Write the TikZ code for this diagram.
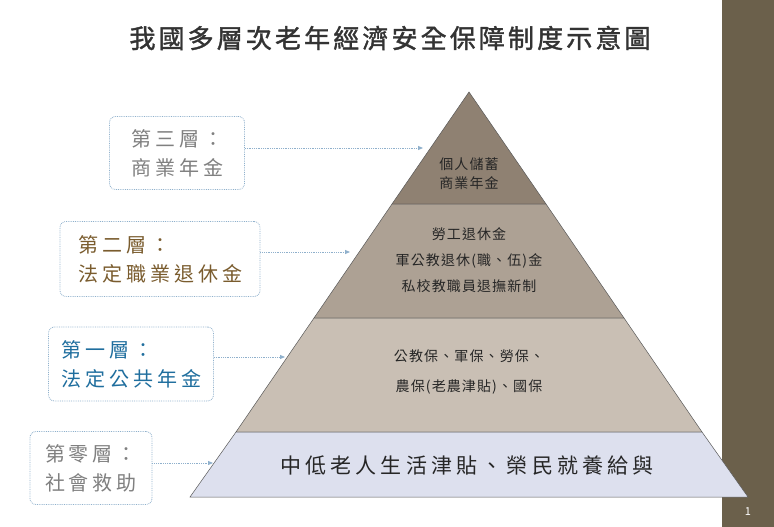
\documentclass[tikz,border=0pt]{standalone}
\usepackage{fontspec}
\setmainfont{Noto Sans CJK TC}
\newfontfamily\spaced[LetterSpace=20]{Noto Sans CJK TC}
\newfontfamily\spacedb[LetterSpace=12,FakeBold=1.5]{Noto Sans CJK TC}
\newfontfamily\spacedc[LetterSpace=8]{Noto Sans CJK TC}
\usetikzlibrary{arrows.meta}
\definecolor{side}{HTML}{6B604B}
\definecolor{lv3}{HTML}{8F8172}
\definecolor{lv2}{HTML}{ADA194}
\definecolor{lv1}{HTML}{C9BFB4}
\definecolor{lv0}{HTML}{DDE0EE}
\definecolor{edge}{HTML}{8FB0CC}
\definecolor{gtxt}{HTML}{808080}
\definecolor{btxt}{HTML}{7A5C2E}
\definecolor{ltxt}{HTML}{1F6E9E}
\begin{document}
\begin{tikzpicture}[x=1pt,y=-1pt,
 tier/.style={draw=edge,densely dotted,thick,rounded corners=6pt,align=left,inner sep=0pt,font=\spaced\fontsize{20}{29}\selectfont},
 conn/.style={draw=edge,densely dotted,thick,-{Triangle[length=5pt,width=4pt]}},
 lvl/.style={draw=gray!70!black,line width=0.5pt},
 ltext/.style={align=center,font=\spacedc\fontsize{14}{26}\selectfont,text=black!85}]
\useasboundingbox (0,0) rectangle (774,527);
\fill[white] (0,0) rectangle (774,527);
\fill[side] (722,0) rectangle (774,527);
\node[text=white,font=\fontsize{11}{13}\selectfont] (pg) at (748,512) {1};
\node[text=black!80,font=\spacedb\fontsize{26}{30}\selectfont] (title) at (390,38) {我國多層次老年經濟安全保障制度示意圖};
% pyramid
\path[lvl,fill=lv3] (469,92) -- (546,204) -- (392,204) -- cycle;
\path[lvl,fill=lv2] (392,204) -- (546,204) -- (624,318) -- (314,318) -- cycle;
\path[lvl,fill=lv1] (314,318) -- (624,318) -- (702,432) -- (236,432) -- cycle;
\path[lvl,fill=lv0] (236,432) -- (702,432) -- (748,497) -- (190,497) -- cycle;
\node[ltext,font=\spacedc\fontsize{14}{19}\selectfont] (p3) at (469,174) {個人儲蓄\\商業年金};
\node[ltext] (p2) at (469,260) {勞工退休金\\軍公教退休(職、伍)金\\私校教職員退撫新制};
\node[ltext,font=\spacedc\fontsize{14}{30}\selectfont] (p1) at (469,372) {公教保、軍保、勞保、\\農保(老農津貼)、國保};
\node[ltext,font=\spaced\fontsize{21}{24}\selectfont] (p0) at (467,466) {中低老人生活津貼、榮民就養給與};
% tier boxes
\node[tier,text=gtxt,minimum width=135pt,minimum height=73pt] (b3) at (177,153) {第三層：\\商業年金};
\node[tier,text=btxt,minimum width=200pt,minimum height=75pt] (b2) at (160,259) {第二層：\\法定職業退休金};
\node[tier,text=ltxt,minimum width=165pt,minimum height=74pt] (b1) at (131,364) {第一層：\\法定公共年金};
\node[tier,text=gtxt,minimum width=122pt,minimum height=73pt] (b0) at (91,468) {第零層：\\社會救助};
\coordinate (t3) at (423,148);
\coordinate (t2) at (350,252);
\coordinate (t1) at (285,357);
\coordinate (t0) at (213,463);
\draw[conn] (b3.east |- t3) -- (t3);
\draw[conn] (b2.east |- t2) -- (t2);
\draw[conn] (b1.east |- t1) -- (t1);
\draw[conn] (b0.east |- t0) -- (t0);
\end{tikzpicture}
\end{document}
